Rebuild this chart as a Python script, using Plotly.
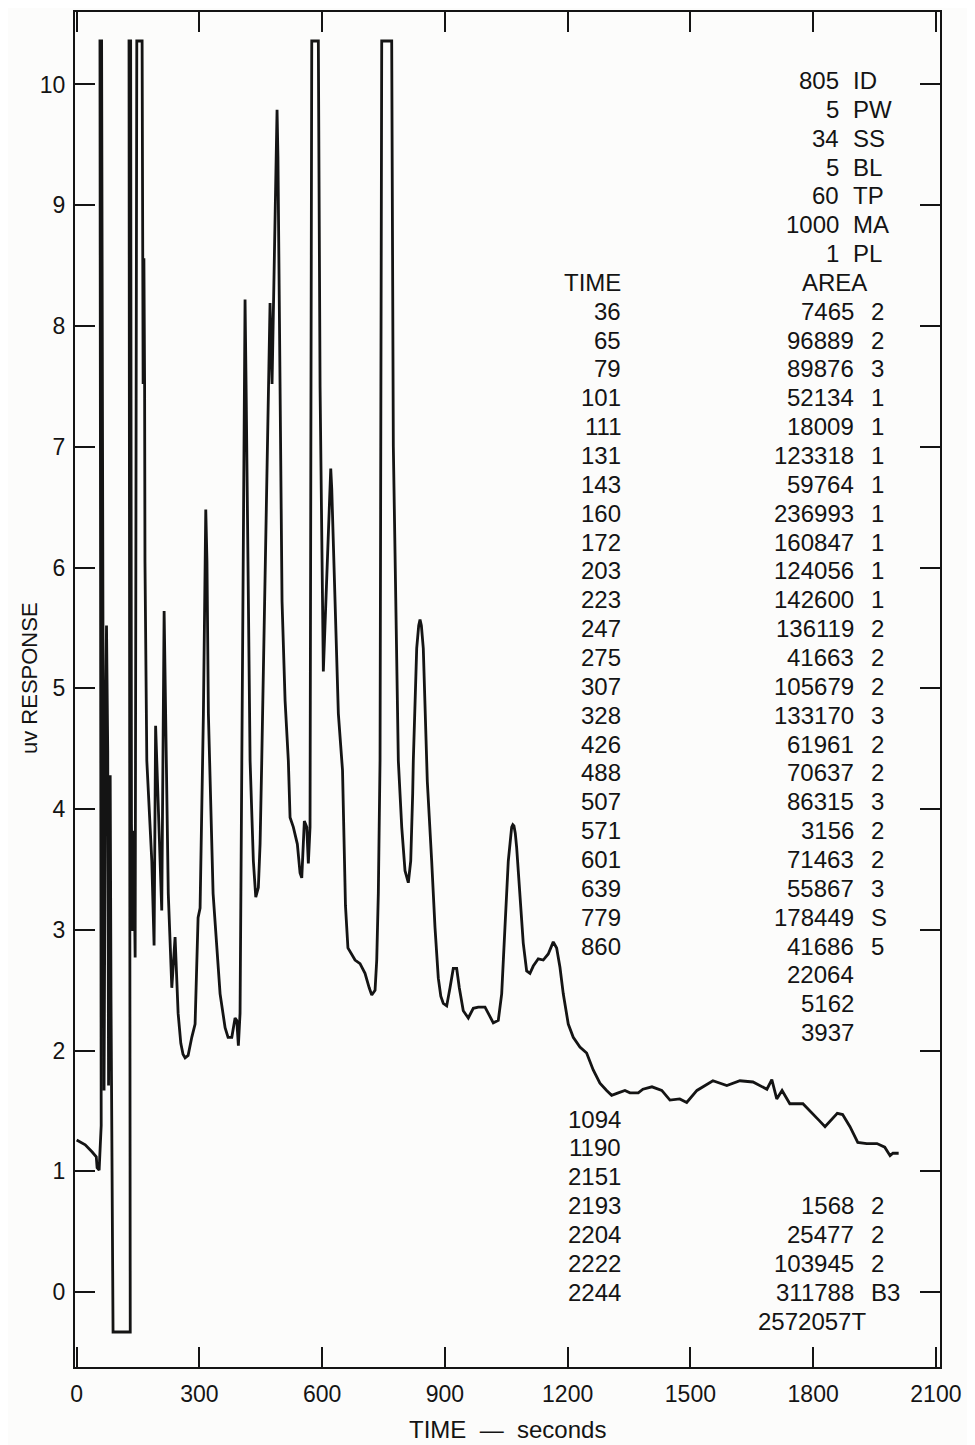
import plotly.graph_objects as go

# ---------------- data ----------------
time_s = [0, 21, 38, 48, 50, 55, 60, 59, 57, 61, 65, 67, 71, 73, 76, 78, 82, 84, 89, 131,
          128, 132, 134, 137, 139, 143, 147, 160, 162.5, 164.4, 166.1, 167, 171.5, 183.7, 189.3,
          193, 208, 213.8, 224, 232.6, 240.6, 244.8, 248, 254.6, 260, 265.1, 272.4, 281.4, 289.5,
          296.8, 301.7, 309.8, 313, 315.6, 318.5, 322, 333.5, 342.5, 350.6, 362.8, 370.1, 379.2, 387.2,
          391.4, 395.3, 399.4, 403.6, 408.5, 411.6, 414.5, 423.9, 431.9, 437.8, 444.1, 448.3, 452.4,
          467.8, 472.7, 477.6, 487.5, 489.8, 492, 497.2, 502, 509.4, 517.4, 521.6, 529.6, 539.4, 546,
          550.2, 556.5, 562.4, 566.3, 570.4, 574.6, 590.7, 594.9, 602.9, 612, 618.5, 621, 623.5,
          627.4, 633, 639.6, 649.8, 657, 663, 680.4, 692.6, 704.8, 715, 721.2, 729.3, 733.4, 737.3,
          741.5, 745.6, 770, 774, 786.2, 794.5, 802.5, 810.6, 816.5, 821.3, 822.8, 831.1, 836,
          839.2, 842.5, 847.2, 857, 867.7, 875.8, 883.9, 890, 896.1, 904.4, 912.5, 920.5, 928.8,
          935.2, 944.9, 957.2, 969.4, 981.6, 998, 1006, 1018.3, 1030.5, 1038.8, 1046.8, 1054.9,
          1063.2, 1066, 1068.8, 1072, 1075.4, 1083.5, 1091.5, 1099.8, 1107.9, 1116, 1128.2, 1140.4,
          1152.6, 1164.8, 1173.1, 1181.2, 1189.3, 1201.5, 1213.7, 1230, 1246.4, 1262.5, 1278.9,
          1295.3, 1307.5, 1323.6, 1340, 1352.2, 1372.5, 1384, 1406, 1430, 1450, 1474, 1491, 1516,
          1555, 1589, 1621, 1653, 1687, 1699, 1711, 1724, 1743, 1775, 1799, 1815, 1829, 1848,
          1859, 1872, 1890, 1909, 1931, 1956, 1975, 1988, 1995, 2009]
response = [1.26, 1.22, 1.16, 1.12, 1.03, 1.01, 1.38, 5.72, 10.36, 10.36, 5.72, 1.67, 4.90, 5.52,
            4.48, 1.71, 4.28, 2.42, -0.33, -0.33,
            10.36, 10.36, 3.88, 2.99, 3.82, 2.77, 10.36, 10.36, 7.52, 8.56, 7.52, 6.05, 4.40, 3.57,
            2.87, 4.69, 3.16, 5.64, 3.30, 2.52, 2.94, 2.58, 2.31, 2.06, 1.97, 1.94, 1.96, 2.11, 2.22,
            3.10, 3.18, 4.79, 6.05, 6.48, 6.05, 4.79, 3.30, 2.89, 2.47, 2.19, 2.11, 2.11, 2.27,
            2.25, 2.04, 2.31, 4.40, 7.40, 8.22, 7.40, 4.40, 3.57, 3.27, 3.35, 3.71, 4.40,
            7.54, 8.19, 7.52, 9.40, 9.79, 9.40, 7.54, 5.72, 4.90, 4.40, 3.93, 3.85, 3.71, 3.47,
            3.43, 3.90, 3.85, 3.55, 3.85, 10.36, 10.36, 7.50, 5.14, 6.00, 6.65, 6.82, 6.65,
            6.24, 5.50, 4.79, 4.32, 3.20, 2.85, 2.75, 2.72, 2.64, 2.52, 2.46, 2.50, 2.75, 3.30,
            4.40, 10.36, 10.36, 7.00, 4.40, 3.85, 3.49, 3.39, 3.57, 4.13, 4.40, 5.33, 5.52,
            5.57, 5.52, 5.33, 4.23, 3.57, 3.02, 2.60, 2.45, 2.39, 2.37, 2.52, 2.68, 2.68,
            2.52, 2.33, 2.27, 2.35, 2.36, 2.36, 2.31, 2.23, 2.25, 2.47, 3.02, 3.57,
            3.85, 3.87, 3.86, 3.80, 3.68, 3.30, 2.89, 2.66, 2.64, 2.70, 2.76, 2.75,
            2.80, 2.90, 2.85, 2.69, 2.47, 2.22, 2.11, 2.03, 1.98, 1.84, 1.73,
            1.67, 1.63, 1.65, 1.67, 1.65, 1.65, 1.68, 1.70, 1.67, 1.59, 1.60, 1.57, 1.67,
            1.75, 1.71, 1.75, 1.74, 1.68, 1.76, 1.60, 1.67, 1.56, 1.56, 1.48, 1.42, 1.37, 1.44,
            1.48, 1.47, 1.37, 1.24, 1.23, 1.23, 1.20, 1.13, 1.15, 1.15]

param_values = ["805", "5", "34", "5", "60", "1000", "1"]
param_codes = ["ID", "PW", "SS", "BL", "TP", "MA", "PL"]

peak_times = [36, 65, 79, 101, 111, 131, 143, 160, 172, 203, 223, 247, 275, 307, 328, 426,
              488, 507, 571, 601, 639, 779, 860]
peak_areas = [7465, 96889, 89876, 52134, 18009, 123318, 59764, 236993, 160847, 124056,
              142600, 136119, 41663, 105679, 133170, 61961, 70637, 86315, 3156, 71463,
              55867, 178449, 41686]
peak_flags = ["2", "2", "3", "1", "1", "1", "1", "1", "1", "1", "1", "2", "2", "2", "3", "2",
              "2", "3", "2", "2", "3", "S", "5"]
extra_areas = [22064, 5162, 3937]
late_times = [1094, 1190, 2151, 2193, 2204, 2222, 2244]
late_areas = ["", "", "", "1568", "25477", "103945", "311788"]
late_flags = ["", "", "", "2", "2", "2", "B3"]
total_area = "2572057T"

x_ticks = [0, 300, 600, 900, 1200, 1500, 1800, 2100]
y_ticks = list(range(0, 11))

# ---------------- figure ----------------
INK = "#141414"
FONT = "Liberation Sans"
BG = "#fcfcfb"

fig = go.Figure()
fig.add_trace(go.Scatter(x=time_s, y=response, mode="lines",
                         line=dict(color=INK, width=2.8), hoverinfo="skip",
                         showlegend=False))

# text table layout (data-space positions)
ROW0 = 10.033
STEP = 0.2389
X_TIME_R = 1333
X_AREA_R = 1902
X_FLAG_L = 1938
X_PAR_R = 1866
X_CODE_L = 1894
TS = 24


def row_y(k):
    return ROW0 - STEP * k


def txt(x, y, s, anchor):
    fig.add_annotation(x=x, y=y, xref="x", yref="y", text=s, showarrow=False,
                       xanchor=anchor, yanchor="middle", borderpad=0,
                       font=dict(family=FONT, size=TS, color=INK))


for k, (v, c) in enumerate(zip(param_values, param_codes)):
    txt(X_PAR_R, row_y(k), v, "right")
    txt(X_CODE_L, row_y(k), c, "left")

txt(X_TIME_R, row_y(7), "TIME", "right")
txt(1853, row_y(7), "AREA", "center")

for i, (t, a, f) in enumerate(zip(peak_times, peak_areas, peak_flags)):
    k = 8 + i
    txt(X_TIME_R, row_y(k), str(t), "right")
    txt(X_AREA_R, row_y(k), str(a), "right")
    txt(X_FLAG_L, row_y(k), f, "left")

for i, a in enumerate(extra_areas):
    txt(X_AREA_R, row_y(31 + i), str(a), "right")

for i, (t, a, f) in enumerate(zip(late_times, late_areas, late_flags)):
    k = 36 + i
    txt(X_TIME_R, row_y(k), str(t), "right")
    if a:
        txt(X_AREA_R, row_y(k), a, "right")
    if f:
        txt(X_FLAG_L, row_y(k), f, "left")

txt(1932, row_y(43), total_area, "right")

# axis titles
fig.add_annotation(x=-0.052, y=0.5085, xref="paper", yref="paper", text="uv RESPONSE",
                   textangle=-90, showarrow=False, xanchor="center", yanchor="middle",
                   font=dict(family=FONT, size=22, color=INK))
fig.add_annotation(x=0.5, y=-0.0464, xref="paper", yref="paper",
                   text="TIME  \u2014  seconds", showarrow=False, xanchor="center",
                   yanchor="middle", font=dict(family=FONT, size=24, color=INK))

axis_common = dict(showline=True, linewidth=2, linecolor=INK, mirror="ticks",
                   ticks="inside", ticklen=20, tickwidth=1.6, tickcolor=INK,
                   showgrid=False, zeroline=False,
                   tickfont=dict(family=FONT, size=23, color=INK))

# the page body adds an 8 px offset, so the figure is sized to fit the window
fig.update_layout(
    width=967, height=1437,
    margin=dict(l=67, r=35, t=2, b=78),
    paper_bgcolor=BG, plot_bgcolor=BG,
    xaxis=dict(range=[-4, 2110], tickvals=x_ticks, ticklabelstandoff=5, **axis_common),
    yaxis=dict(range=[-0.62, 10.6], tickvals=y_ticks, ticklabelstandoff=3, **axis_common),
)

fig.write_html("out.html")
